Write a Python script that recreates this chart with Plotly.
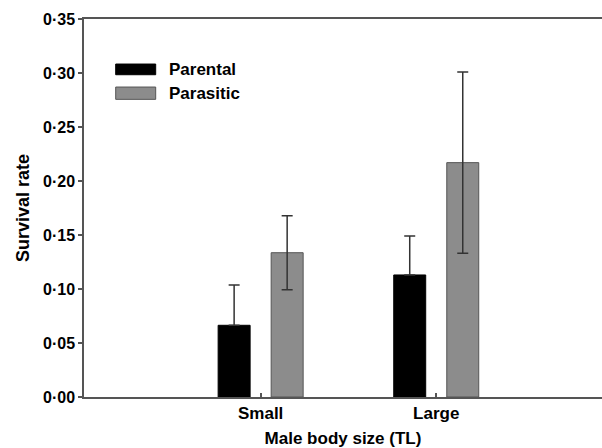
import plotly.graph_objects as go

categories = ["Small", "Large"]
parental = [0.0664, 0.113]
parental_err = [0.0373, 0.036]
parasitic = [0.1336, 0.217]
parasitic_err = [0.0343, 0.084]
ytick_vals = [0.00, 0.05, 0.10, 0.15, 0.20, 0.25, 0.30, 0.35]
ytick_text = ["0·00", "0·05", "0·10", "0·15", "0·20", "0·25", "0·30", "0·35"]

FONT = "Liberation Sans, Arial, sans-serif"
AX = "#555555"

fig = go.Figure()
fig.add_trace(go.Bar(
    x=categories, y=parental, name="Parental",
    marker=dict(color="#000000", line=dict(color="#000000", width=1)),
    error_y=dict(type="data", symmetric=False, array=parental_err,
                 arrayminus=[0 for _ in parental_err],
                 color="#333333", thickness=1.5, width=5.5),
))
fig.add_trace(go.Bar(
    x=categories, y=parasitic, name="Parasitic",
    marker=dict(color="#8c8c8c", line=dict(color="#555555", width=1)),
    error_y=dict(type="data", array=parasitic_err, color="#333333", thickness=1.5, width=5.5),
))

# legend drawn manually (wide swatches)
fig.add_shape(type="rect", xref="paper", yref="y", x0=0.0612, x1=0.1384, y0=0.2984, y1=0.3083,
              fillcolor="#000000", line=dict(color="#000000", width=1))
fig.add_shape(type="rect", xref="paper", yref="y", x0=0.0612, x1=0.1384, y0=0.2756, y1=0.2870,
              fillcolor="#8c8c8c", line=dict(color="#555555", width=1))
fig.add_annotation(text="<b>Parental</b>", xref="paper", yref="y", x=0.160, y=0.3030,
                   xanchor="left", yanchor="middle", showarrow=False,
                   font=dict(family=FONT, size=17, color="#000"))
fig.add_annotation(text="<b>Parasitic</b>", xref="paper", yref="y", x=0.160, y=0.2812,
                   xanchor="left", yanchor="middle", showarrow=False,
                   font=dict(family=FONT, size=17, color="#000"))

fig.update_layout(
    width=602, height=448,
    margin=dict(l=84, r=0, t=19, b=51),
    paper_bgcolor="white", plot_bgcolor="white",
    barmode="group", bargap=0.396, bargroupgap=0.397,
    showlegend=False,
    font=dict(family=FONT, color="#000"),
)
fig.update_xaxes(
    type="category", categoryorder="array", categoryarray=categories,
    tickvals=categories, ticktext=["<b>" + c + "</b>" for c in categories],
    range=[-1.006, 1.944],
    showline=True, linecolor=AX, linewidth=1.5, mirror=True,
    ticks="inside", ticklen=4, tickcolor=AX, tickwidth=1.5,
    showgrid=False, zeroline=False,
    tickfont=dict(family=FONT, size=17, color="#000"),
    title=dict(text="<b>Male body size (TL)</b>", font=dict(family=FONT, size=17, color="#000"), standoff=12),
)
fig.update_yaxes(
    range=[0, 0.35], tickvals=ytick_vals, ticktext=["<b>" + t + "</b>" for t in ytick_text],
    showline=True, linecolor=AX, linewidth=1.5, mirror=False,
    ticks="outside", ticklen=4, tickcolor=AX, tickwidth=1.5,
    showgrid=False, zeroline=False,
    tickfont=dict(family=FONT, size=16, color="#000"),
    title=dict(text="<b>Survival rate</b>", font=dict(family=FONT, size=18, color="#000"), standoff=9),
)

fig.write_html("out.html")
